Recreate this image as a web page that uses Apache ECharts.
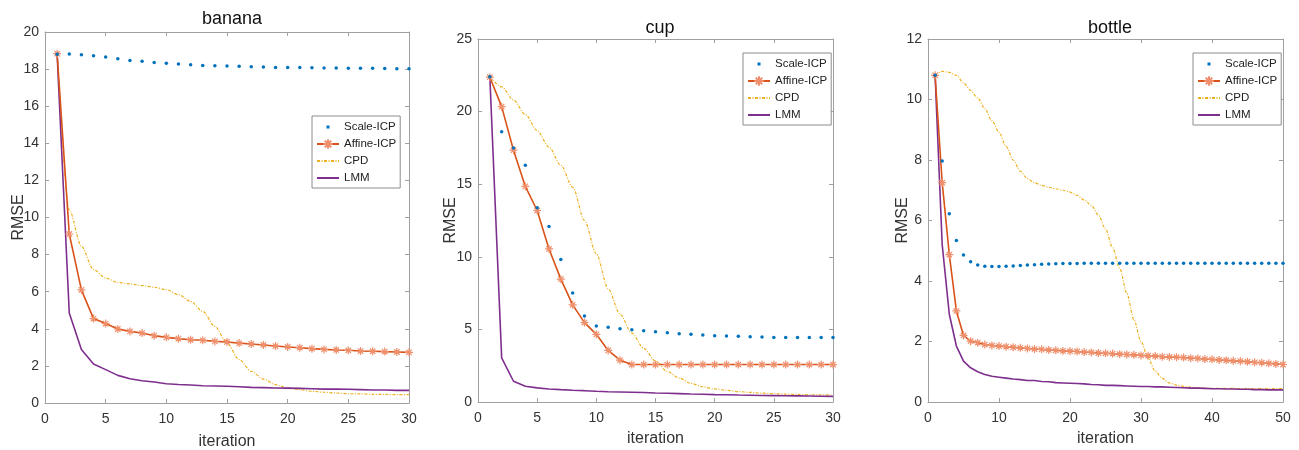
<!DOCTYPE html>
<html>
<head>
<meta charset="utf-8">
<script src="https://cdn.jsdelivr.net/npm/echarts@6/dist/echarts.min.js"></script>
<style>
html,body{margin:0;padding:0;background:#fff;}
#c{width:1299px;height:450px;}
</style>
</head>
<body>
<div id="c"></div>
<script>
// ---------- data ----------
const seriesNames = ['Scale-ICP', 'Affine-ICP', 'CPD', 'LMM'];
const panelTitles = ['banana', 'cup', 'bottle'];

const bananaIter = [1,2,3,4,5,6,7,8,9,10,11,12,13,14,15,16,17,18,19,20,21,22,23,24,25,26,27,28,29,30];
const bananaScale = [18.8,18.81,18.78,18.72,18.65,18.56,18.47,18.42,18.36,18.31,18.27,18.24,18.2,18.18,18.17,18.15,18.13,18.11,18.09,18.09,18.08,18.07,18.06,18.06,18.05,18.04,18.04,18.03,18.02,18.02];
const bananaAffine = [18.83,9.11,6.1,4.55,4.28,3.99,3.86,3.77,3.63,3.54,3.47,3.41,3.38,3.32,3.29,3.23,3.18,3.13,3.07,3.02,2.98,2.93,2.89,2.86,2.84,2.8,2.79,2.77,2.75,2.73];
const bananaCPD = [18.8,10.4,8.45,7.19,6.74,6.5,6.42,6.33,6.24,6.11,5.84,5.48,4.94,4.13,3.23,2.34,1.71,1.29,0.99,0.81,0.72,0.63,0.58,0.54,0.5,0.49,0.47,0.46,0.45,0.45];
const bananaLMM = [18.8,4.85,2.88,2.1,1.8,1.49,1.31,1.2,1.13,1.04,1.0,0.97,0.93,0.92,0.9,0.88,0.84,0.83,0.81,0.8,0.79,0.77,0.75,0.75,0.74,0.72,0.7,0.7,0.68,0.68];

const cupIter = [1,2,3,4,5,6,7,8,9,10,11,12,13,14,15,16,17,18,19,20,21,22,23,24,25,26,27,28,29,30];
const cupScale = [22.4,18.61,17.5,16.3,13.38,12.08,9.82,7.5,5.93,5.24,5.14,5.05,4.98,4.91,4.84,4.77,4.7,4.66,4.61,4.57,4.54,4.52,4.5,4.47,4.45,4.45,4.44,4.44,4.44,4.44];
const cupAffine = [22.37,20.34,17.34,14.85,13.19,10.54,8.46,6.69,5.47,4.66,3.55,2.88,2.58,2.58,2.58,2.58,2.58,2.58,2.58,2.58,2.58,2.58,2.58,2.58,2.58,2.58,2.58,2.58,2.58,2.58];
const cupCPD = [22.4,21.7,20.8,19.8,18.7,17.55,16.3,14.8,12.5,10.2,7.8,6.05,4.75,3.7,2.82,2.1,1.65,1.28,1.05,0.9,0.8,0.72,0.66,0.61,0.57,0.54,0.52,0.5,0.49,0.48];
const cupLMM = [22.4,3.04,1.43,1.08,0.97,0.9,0.85,0.81,0.78,0.74,0.71,0.69,0.67,0.65,0.62,0.6,0.58,0.55,0.53,0.51,0.5,0.48,0.47,0.45,0.44,0.43,0.42,0.41,0.4,0.39];

const bottleIter = [1,2,3,4,5,6,7,8,9,10,11,12,13,14,15,16,17,18,19,20,21,22,23,24,25,26,27,28,29,30,31,32,33,34,35,36,37,38,39,40,41,42,43,44,45,46,47,48,49,50];
const bottleScale = [10.8,7.97,6.22,5.34,4.86,4.64,4.53,4.49,4.48,4.48,4.49,4.5,4.51,4.53,4.54,4.55,4.56,4.57,4.58,4.58,4.58,4.59,4.59,4.59,4.59,4.59,4.59,4.59,4.59,4.59,4.59,4.59,4.59,4.59,4.59,4.59,4.59,4.59,4.59,4.59,4.59,4.59,4.59,4.59,4.59,4.59,4.59,4.59,4.59,4.59];
const bottleAffine = [10.8,7.25,4.87,3.01,2.2,2.01,1.96,1.9,1.87,1.85,1.83,1.81,1.79,1.77,1.75,1.74,1.72,1.71,1.69,1.68,1.67,1.65,1.64,1.62,1.61,1.6,1.58,1.57,1.56,1.54,1.53,1.52,1.5,1.49,1.48,1.47,1.45,1.44,1.42,1.41,1.39,1.38,1.36,1.35,1.33,1.31,1.3,1.28,1.26,1.24];
const bottleCPD = [10.8,10.93,10.9,10.8,10.55,10.3,10.05,9.7,9.3,8.92,8.45,8.0,7.63,7.38,7.25,7.16,7.1,7.05,7.0,6.94,6.83,6.68,6.5,6.18,5.72,5.1,4.42,3.6,2.72,2.0,1.45,1.02,0.78,0.63,0.56,0.52,0.49,0.47,0.46,0.45,0.45,0.45,0.45,0.44,0.44,0.44,0.44,0.44,0.44,0.44];
const bottleLMM = [10.8,5.2,2.9,1.85,1.35,1.13,1.0,0.91,0.85,0.82,0.79,0.76,0.74,0.71,0.71,0.68,0.67,0.64,0.63,0.62,0.61,0.6,0.58,0.57,0.55,0.55,0.54,0.53,0.52,0.51,0.51,0.5,0.5,0.49,0.48,0.47,0.46,0.46,0.45,0.44,0.44,0.43,0.43,0.42,0.42,0.41,0.41,0.4,0.4,0.4];

const xMax = [30, 30, 50];
const xStep = [5, 5, 10];
const yMax = [20, 25, 12];
const yStep = [2, 5, 2];

// ---------- chart ----------
const panels = [
  {iter: bananaIter, vals: [bananaScale, bananaAffine, bananaCPD, bananaLMM]},
  {iter: cupIter, vals: [cupScale, cupAffine, cupCPD, cupLMM]},
  {iter: bottleIter, vals: [bottleScale, bottleAffine, bottleCPD, bottleLMM]}
];
const grids = [
  {left: 45, top: 32, width: 364, height: 371},
  {left: 478, top: 39, width: 355, height: 363},
  {left: 928, top: 39, width: 355, height: 363}
];
const titlePos = [{x: 227, y: 5}, {x: 655, y: 14}, {x: 1105, y: 14}];
const legendPos = [{left: 312, top: 116}, {left: 743, top: 53}, {left: 1193, top: 53}];
const xNameGap = [31, 29, 29];
const yNameGap = [18, 19, 17];

const FONT = "'Liberation Sans Narrow', 'Liberation Sans', Arial, sans-serif";
const AXC = '#a0a0a0';
const TXC = '#333333';
const asterisk = 'path://M5,0L5,10M0,5L10,5M1.6,1.6L8.4,8.4M8.4,1.6L1.6,8.4';
const dotIcon = 'path://M0,0M22,12M9.5,4.5L12.5,4.5L12.5,7.5L9.5,7.5Z';

const option = {
  animation: false,
  backgroundColor: '#ffffff',
  title: panelTitles.map((t, i) => ({
    text: t, left: titlePos[i].x, top: titlePos[i].y, textAlign: 'center',
    textStyle: {fontFamily: FONT, fontSize: 18, fontWeight: 'normal', color: '#111'}
  })),
  grid: grids.map(g => Object.assign({containLabel: false, outerBoundsMode: 'none'}, g)),
  legend: legendPos.map((p, i) => ({
    data: [
      {name: 'Scale-ICP', icon: dotIcon},
      {name: 'Affine-ICP'},
      {name: 'CPD', itemStyle: {opacity: 0}},
      {name: 'LMM', itemStyle: {opacity: 0}}
    ],
    orient: 'vertical', left: p.left, top: p.top,
    padding: [5, 4, 4, 4], itemGap: 5, itemWidth: 22, itemHeight: 12,
    borderColor: '#8c8c8c', borderWidth: 1, backgroundColor: '#ffffff',
    textStyle: {fontFamily: FONT, fontSize: 11.5, color: '#222'},
    selectedMode: false
  })),
  xAxis: [],
  yAxis: [],
  series: []
};

panels.forEach((p, i) => {
  const common = {min: 0, max: xMax[i], interval: xStep[i], type: 'value', gridIndex: i,
    axisLine: {show: true, onZero: false, lineStyle: {color: AXC, width: 1}},
    axisTick: {show: true, inside: true, length: 4, lineStyle: {color: AXC}},
    splitLine: {show: false}};
  option.xAxis.push(Object.assign({}, common, {
    position: 'bottom', name: 'iteration', nameLocation: 'middle', nameGap: xNameGap[i],
    nameMoveOverlap: false,
    nameTextStyle: {fontFamily: FONT, fontSize: 16, color: TXC},
    axisLabel: {fontFamily: FONT, fontSize: 14, color: TXC, margin: 9}
  }));
  option.xAxis.push(Object.assign({}, common, {position: 'top', axisLabel: {show: false}}));
  const ycommon = {min: 0, max: yMax[i], interval: yStep[i], type: 'value', gridIndex: i,
    axisLine: {show: true, onZero: false, lineStyle: {color: AXC, width: 1}},
    axisTick: {show: true, inside: true, length: 4, lineStyle: {color: AXC}},
    splitLine: {show: false}};
  option.yAxis.push(Object.assign({}, ycommon, {
    position: 'left', name: 'RMSE', nameLocation: 'middle', nameGap: yNameGap[i],
    nameMoveOverlap: false,
    nameTextStyle: {fontFamily: "'Liberation Sans', Arial, sans-serif", fontSize: 16, color: TXC},
    axisLabel: {fontFamily: FONT, fontSize: 14, color: TXC, margin: 6}
  }));
  option.yAxis.push(Object.assign({}, ycommon, {position: 'right', axisLabel: {show: false}}));

  const xi = 2 * i, yi = 2 * i;
  const toPairs = arr => p.iter.map((x, k) => [x, arr[k]]);
  option.series.push(
    {name: 'Scale-ICP', type: 'line', xAxisIndex: xi, yAxisIndex: yi, data: toPairs(p.vals[0]),
      symbol: 'circle', symbolSize: 3.5, showSymbol: true, showAllSymbol: true,
      lineStyle: {width: 0, opacity: 0}, itemStyle: {color: '#0072BD'}, z: 5},
    {name: 'Affine-ICP', type: 'line', xAxisIndex: xi, yAxisIndex: yi, data: toPairs(p.vals[1]),
      symbol: asterisk, symbolSize: 8, showSymbol: true, showAllSymbol: true,
      lineStyle: {width: 1.6, color: '#D95319'},
      itemStyle: {color: '#EF8F6C', borderColor: '#EF8F6C', borderWidth: 1.2}, z: 4},
    {name: 'CPD', type: 'line', xAxisIndex: xi, yAxisIndex: yi, data: toPairs(p.vals[2]),
      symbol: 'none', smooth: 0.3, smoothMonotone: 'x',
      lineStyle: {width: 1.2, color: '#EDB120', type: [3, 1.5, 1, 1.5]},
      itemStyle: {color: '#EDB120'}, z: 3},
    {name: 'LMM', type: 'line', xAxisIndex: xi, yAxisIndex: yi, data: toPairs(p.vals[3]),
      symbol: 'none', lineStyle: {width: 1.6, color: '#7E2F8E'},
      itemStyle: {color: '#7E2F8E'}, z: 3}
  );
});

const chart = echarts.init(document.getElementById('c'), null, {renderer: 'canvas'});
chart.setOption(option);
</script>
</body>
</html>
